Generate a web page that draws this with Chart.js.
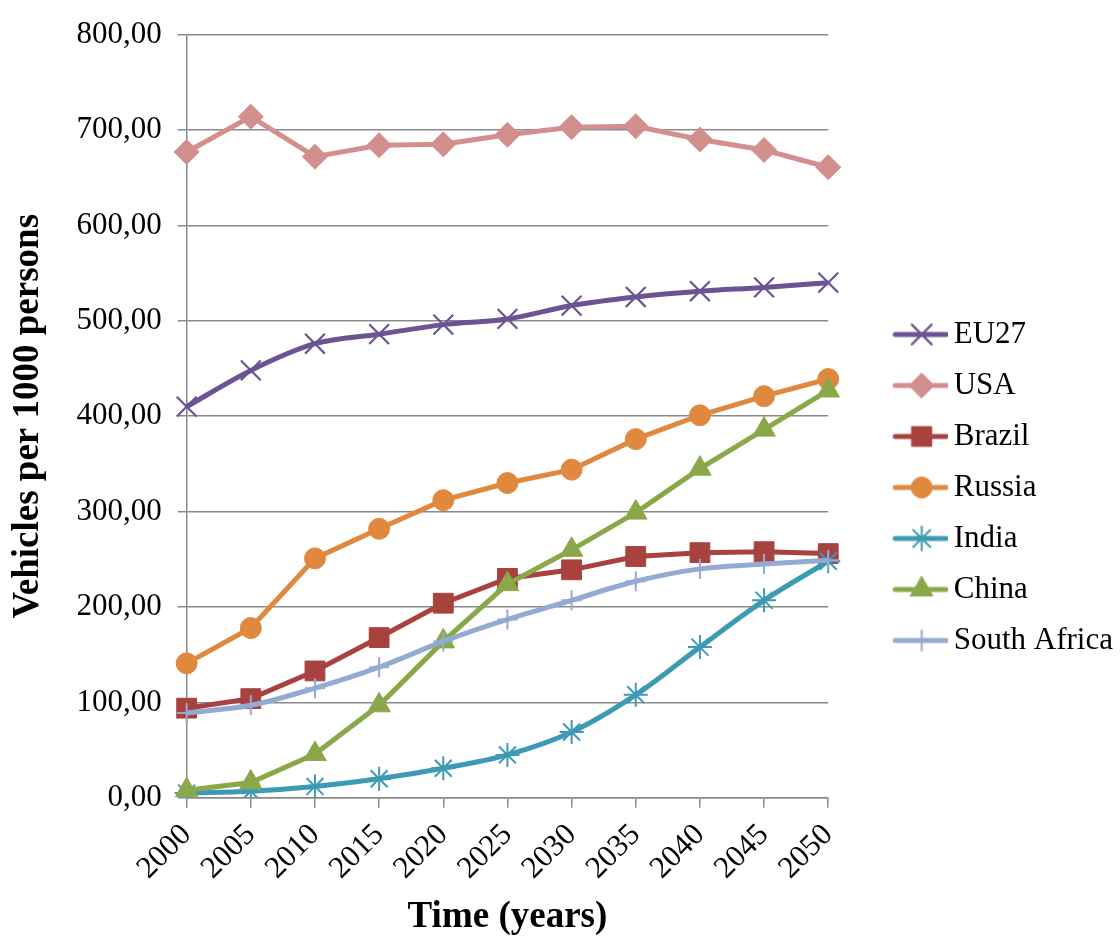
<!DOCTYPE html>
<html><head><meta charset="utf-8">
<script src="https://cdn.jsdelivr.net/npm/chart.js@4.4.0/dist/chart.umd.min.js"></script>
<style>html,body{margin:0;padding:0;background:#fff}#wrap{width:1120px;height:936px;position:relative}</style>
</head><body><div id="wrap"><canvas id="c" width="1120" height="936"></canvas></div>
<script>
const years = ['2000','2005','2010','2015','2020','2025','2030','2035','2040','2045','2050'];
const eu27 = [410, 448, 476, 486, 496, 502, 516, 525, 531, 535, 540];
const usa = [677, 714, 672, 684, 685, 695, 703, 704, 690, 679, 661];
const brazil = [94, 104, 133, 168, 204, 230, 239, 253, 257, 258, 256];
const russia = [141, 178, 251, 282, 312, 330, 344, 376, 401, 421, 439];
const india = [5, 7, 12, 20, 31, 45, 69, 108, 158, 207, 248];
const china = [8, 16, 46, 97, 164, 224, 260, 299, 345, 386, 427];
const southAfrica = [89, 97, 115, 137, 164, 187, 207, 227, 240, 245, 249];
const seriesNames = ['EU27','USA','Brazil','Russia','India','China','South Africa'];
const yTicks = [0,100,200,300,400,500,600,700,800];

const FONT = '"Liberation Serif", "Times New Roman", serif';
const styles = [
  {color:'#6B5394', point:'crossRot', radius:14, bw:2.2, smooth:true},
  {color:'#D38F8D', point:'rectRot', radius:12.5, bw:1, smooth:false},
  {color:'#A8423F', point:'rect', radius:14, bw:1, smooth:false},
  {color:'#E0883E', point:'circle', radius:10.5, bw:1, smooth:false},
  {color:'#3D9AB4', point:'star', radius:12, bw:2, smooth:true},
  {color:'#8AA84A', point:'triangle', radius:13, bw:1, smooth:false},
  {color:'#93AAD2', point:'cross', radius:10, bw:2, smooth:true}
];
const values = [eu27, usa, brazil, russia, india, china, southAfrica];

function legendIcon(s) {
  const c = document.createElement('canvas');
  c.width = 110; c.height = 30;
  const ctx = c.getContext('2d');
  ctx.strokeStyle = s.color; ctx.lineWidth = 5; ctx.lineCap = 'round';
  ctx.beginPath(); ctx.moveTo(57, 15); ctx.lineTo(108, 15); ctx.stroke();
  ctx.fillStyle = s.color; ctx.strokeStyle = s.color; ctx.lineWidth = s.bw;
  Chart.helpers.drawPoint(ctx, {pointStyle: s.point, radius: s.radius, borderWidth: s.bw, rotation: 0}, 83.5, 15);
  return c;
}

const datasets = seriesNames.map((n, i) => ({
  label: n,
  data: values[i],
  borderColor: styles[i].color,
  backgroundColor: styles[i].color,
  borderWidth: 5,
  pointStyle: styles[i].point,
  pointRadius: styles[i].radius,
  pointHoverRadius: styles[i].radius,
  pointBorderWidth: styles[i].bw,
  pointBackgroundColor: styles[i].color,
  pointBorderColor: styles[i].color,
  cubicInterpolationMode: styles[i].smooth ? 'monotone' : 'default',
  tension: 0,
  order: seriesNames.length - i,
  fill: false
}));

new Chart(document.getElementById('c'), {
  type: 'line',
  data: { labels: years, datasets },
  options: {
    responsive: false,
    animation: false,
    devicePixelRatio: 1,
    layout: { padding: { top: 14, right: -3, bottom: 0, left: 0 } },
    plugins: {
      tooltip: { enabled: false },
      legend: {
        position: 'right',
        align: 'start',
        maxWidth: 400,
        title: { display: true, text: ' ', font: { size: 10 }, padding: { top: 273, bottom: 0 } },
        labels: {
          usePointStyle: true,
          pointStyleWidth: 90,
          padding: 20,
          color: '#000',
          font: { family: FONT, size: 31 },
          generateLabels: (chart) => seriesNames.map((n, i) => ({
            text: n,
            pointStyle: legendIcon(styles[i]), fillStyle: styles[i].color,
            strokeStyle: styles[i].color, lineWidth: 0, hidden: false, datasetIndex: i, fontColor: '#000'
          }))
        }
      }
    },
    scales: {
      x: {
        type: 'category',
        offset: false,
        grid: { display: true, drawOnChartArea: false, color: '#8a8a8a', lineWidth: 1.5, tickLength: 10 },
        border: { display: true, color: '#8a8a8a', width: 1.5 },
        ticks: { color: '#000', font: { family: FONT, size: 31 }, maxRotation: 45, minRotation: 45, padding: 9, autoSkip: false },
        title: { display: true, text: 'Time (years)', color: '#000', font: { family: FONT, size: 37, weight: 'bold', lineHeight: 1 }, padding: { top: 3, bottom: 0 } }
      },
      y: {
        min: 0, max: 800,
        afterBuildTicks: (axis) => { axis.ticks = yTicks.map(v => ({ value: v })); },
        grid: { color: '#8a8a8a', lineWidth: 1.5, tickLength: 9 },
        border: { display: true, color: '#8a8a8a', width: 1.5 },
        ticks: { color: '#000', font: { family: FONT, size: 31 }, padding: 16,
          callback: (v) => Number(v).toFixed(2).replace('.', ',') },
        title: { display: true, text: 'Vehicles per 1000 persons', color: '#000', font: { family: FONT, size: 37, weight: 'bold', lineHeight: 1.2 }, padding: { top: 6, bottom: 10 } }
      }
    }
  }
});
</script></body></html>
